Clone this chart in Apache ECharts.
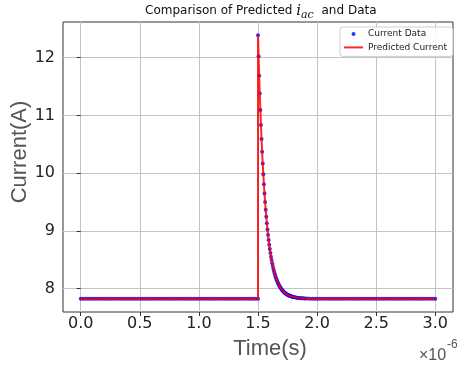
<!DOCTYPE html>
<html>
<head>
<meta charset="utf-8">
<script src="https://cdn.jsdelivr.net/npm/echarts@6/dist/echarts.min.js"></script>
<style>
  html, body { margin: 0; padding: 0; background: #fff; }
  #chart { width: 469px; height: 368px; }
</style>
</head>
<body>
<div id="chart"></div>
<script>
// Measured current (A) against time (microseconds), in three stretches:
// steady state before the step, the fast decay after it, and steady state again.
const preTime = [
  0, 0.02, 0.04, 0.06, 0.08, 0.1, 0.12, 0.14, 0.16, 0.18,
  0.2, 0.22, 0.24, 0.26, 0.28, 0.3, 0.32, 0.34, 0.36, 0.38,
  0.4, 0.42, 0.44, 0.46, 0.48, 0.5, 0.52, 0.54, 0.56, 0.58,
  0.6, 0.62, 0.64, 0.66, 0.68, 0.7, 0.72, 0.74, 0.76, 0.78,
  0.8, 0.82, 0.84, 0.86, 0.88, 0.9, 0.92, 0.94, 0.96, 0.98,
  1.0, 1.02, 1.04, 1.06, 1.08, 1.1, 1.12, 1.14, 1.16, 1.18,
  1.2, 1.22, 1.24, 1.26, 1.28, 1.3, 1.32, 1.34, 1.36, 1.38,
  1.4, 1.42, 1.44, 1.46, 1.48, 1.5
];
const preCurrent = [
  7.825, 7.825, 7.825, 7.825, 7.825, 7.825, 7.825, 7.825, 7.825, 7.825,
  7.825, 7.825, 7.825, 7.825, 7.825, 7.825, 7.825, 7.825, 7.825, 7.825,
  7.825, 7.825, 7.825, 7.825, 7.825, 7.825, 7.825, 7.825, 7.825, 7.825,
  7.825, 7.825, 7.825, 7.825, 7.825, 7.825, 7.825, 7.825, 7.825, 7.825,
  7.825, 7.825, 7.825, 7.825, 7.825, 7.825, 7.825, 7.825, 7.825, 7.825,
  7.825, 7.825, 7.825, 7.825, 7.825, 7.825, 7.825, 7.825, 7.825, 7.825,
  7.825, 7.825, 7.825, 7.825, 7.825, 7.825, 7.825, 7.825, 7.825, 7.825,
  7.825, 7.825, 7.825, 7.825, 7.825, 7.825
];

// Decay after the step, sampled every 5 ns.
const decayTime = [
  1.5, 1.505, 1.51, 1.515, 1.52, 1.525, 1.53, 1.535, 1.54, 1.545,
  1.55, 1.555, 1.56, 1.565, 1.57, 1.575, 1.58, 1.585, 1.59, 1.595,
  1.6, 1.605, 1.61, 1.615, 1.62, 1.625, 1.63, 1.635, 1.64, 1.645,
  1.65, 1.655, 1.66, 1.665, 1.67, 1.675, 1.68, 1.685, 1.69, 1.695,
  1.7, 1.705, 1.71, 1.715, 1.72, 1.725, 1.73, 1.735, 1.74, 1.745,
  1.75, 1.755, 1.76, 1.765, 1.77, 1.775, 1.78, 1.785, 1.79, 1.795,
  1.8
];
const decayCurrent = [
  12.39, 12.025, 11.689, 11.380, 11.095, 10.834, 10.593, 10.372, 10.168, 9.980,
  9.808, 9.649, 9.503, 9.369, 9.246, 9.132, 9.027, 8.931, 8.843, 8.761,
  8.686, 8.617, 8.554, 8.496, 8.442, 8.393, 8.347, 8.306, 8.267, 8.232,
  8.199, 8.169, 8.142, 8.116, 8.093, 8.072, 8.052, 8.034, 8.017, 8.002,
  7.988, 7.975, 7.963, 7.952, 7.941, 7.932, 7.924, 7.916, 7.908, 7.902,
  7.896, 7.890, 7.885, 7.880, 7.876, 7.872, 7.868, 7.864, 7.861, 7.858,
  7.856
];

const postTime = [
  1.81, 1.82, 1.83, 1.84, 1.85, 1.86, 1.87, 1.88, 1.89, 1.9,
  1.92, 1.94, 1.96, 1.98, 2.0,
  2.02, 2.04, 2.06, 2.08, 2.1, 2.12, 2.14, 2.16, 2.18, 2.2,
  2.22, 2.24, 2.26, 2.28, 2.3, 2.32, 2.34, 2.36, 2.38, 2.4,
  2.42, 2.44, 2.46, 2.48, 2.5, 2.52, 2.54, 2.56, 2.58, 2.6,
  2.62, 2.64, 2.66, 2.68, 2.7, 2.72, 2.74, 2.76, 2.78, 2.8,
  2.82, 2.84, 2.86, 2.88, 2.9, 2.92, 2.94, 2.96, 2.98, 3.0
];
const postCurrent = [
  7.851, 7.847, 7.843, 7.840, 7.838, 7.836, 7.834, 7.833, 7.832, 7.831,
  7.829, 7.828, 7.827, 7.826, 7.826,
  7.825, 7.825, 7.825, 7.825, 7.825, 7.825, 7.825, 7.825, 7.825, 7.825,
  7.825, 7.825, 7.825, 7.825, 7.825, 7.825, 7.825, 7.825, 7.825, 7.825,
  7.825, 7.825, 7.825, 7.825, 7.825, 7.825, 7.825, 7.825, 7.825, 7.825,
  7.825, 7.825, 7.825, 7.825, 7.825, 7.825, 7.825, 7.825, 7.825, 7.825,
  7.825, 7.825, 7.825, 7.825, 7.825, 7.825, 7.825, 7.825, 7.825, 7.825
];

// Model prediction: flat, a step at 1.5 us, then the same decay back to steady state.
const predictedTime = [0, 1.5].concat(decayTime, [1.85, 1.9, 2.0, 3.0]);
const predictedCurrent = [7.825, 7.825].concat(decayCurrent, [7.838, 7.831, 7.826, 7.825]);

// Tick positions and axis limits (microseconds / amperes).
const xTicks = [0, 0.5, 1.0, 1.5, 2.0, 2.5, 3.0];
const yTicks = [8, 9, 10, 11, 12];
const xLimits = [-0.15, 3.15];
const yLimits = [7.597, 12.618];

const zip = (xs, ys) => xs.map((x, i) => [x, ys[i]]);
const measured = zip(preTime.concat(decayTime, postTime),
                     preCurrent.concat(decayCurrent, postCurrent));
const predicted = zip(predictedTime, predictedCurrent);

const chart = echarts.init(document.getElementById('chart'), null, { renderer: 'canvas' });

const gridLine = { show: true, lineStyle: { color: '#c4c4c4', width: 1 } };
const tickStyle = { show: true, inside: false, length: 4, lineStyle: { color: '#333', width: 1 } };
const labelFont = { fontFamily: 'DejaVu Sans', fontSize: 16, color: '#222' };
const titleBase = { fontWeight: 'normal', color: '#111', lineHeight: 20, verticalAlign: 'middle' };

chart.setOption({
  animation: false,
  backgroundColor: '#fff',
  title: {
    left: 145,
    top: 1,
    padding: 0,
    text: '{a|Comparison of Predicted }{m|i}{s|ac}{a| and Data}',
    textStyle: {
      fontWeight: 'normal',
      rich: {
        a: Object.assign({ fontFamily: 'DejaVu Sans', fontSize: 12 }, titleBase),
        m: Object.assign({ fontFamily: 'DejaVu Serif', fontStyle: 'italic', fontSize: 15 }, titleBase),
        s: Object.assign({ fontFamily: 'DejaVu Serif', fontStyle: 'italic', fontSize: 11, padding: [8, 4, 0, 0] }, titleBase)
      }
    }
  },
  legend: {
    left: 340,
    top: 27,
    orient: 'vertical',
    itemWidth: 19,
    itemHeight: 4,
    itemGap: 3.4,
    padding: [2, 6, 4, 3],
    backgroundColor: 'rgba(255,255,255,0.85)',
    borderColor: '#d0d0d0',
    borderWidth: 1,
    borderRadius: 3,
    textStyle: { fontFamily: 'DejaVu Sans', fontSize: 9, color: '#222', lineHeight: 10 },
    data: [
      { name: 'Current Data', icon: 'circle' },
      { name: 'Predicted Current', itemStyle: { opacity: 0 } }
    ]
  },
  grid: {
    left: 63, right: 16, top: 22, bottom: 56,
    show: true, borderColor: '#333', borderWidth: 1, backgroundColor: 'transparent'
  },
  xAxis: {
    type: 'value',
    min: xLimits[0], max: xLimits[1],
    axisLine: { show: false },
    axisTick: Object.assign({ customValues: xTicks }, tickStyle),
    axisLabel: Object.assign({ customValues: xTicks, margin: 4, formatter: v => v.toFixed(1) }, labelFont),
    splitLine: gridLine
  },
  yAxis: {
    type: 'value',
    min: yLimits[0], max: yLimits[1],
    axisLine: { show: false },
    axisTick: Object.assign({ customValues: yTicks }, tickStyle),
    axisLabel: Object.assign({ customValues: yTicks, margin: 8, formatter: v => String(v) }, labelFont),
    splitLine: gridLine
  },
  graphic: [
    {
      type: 'text', x: 270, y: 349,
      style: { text: 'Time(s)', fontFamily: 'Liberation Sans', fontSize: 22, fill: '#555', align: 'center', verticalAlign: 'middle' }
    },
    {
      type: 'text', x: 20, y: 152, rotation: Math.PI / 2,
      style: { text: 'Current(A)', fontFamily: 'Liberation Sans', fontSize: 22, fill: '#555', align: 'center', verticalAlign: 'middle' }
    },
    {
      type: 'text', x: 419, y: 356,
      style: { text: '×10', fontFamily: 'Liberation Sans', fontSize: 16, fill: '#555', align: 'left', verticalAlign: 'middle' }
    },
    {
      type: 'text', x: 447, y: 345,
      style: { text: '-6', fontFamily: 'Liberation Sans', fontSize: 12, fill: '#555', align: 'left', verticalAlign: 'middle' }
    }
  ],
  series: [
    {
      name: 'Current Data',
      type: 'scatter',
      data: measured,
      symbol: 'circle',
      symbolSize: 4,
      itemStyle: { color: '#0000ff' },
      z: 2
    },
    {
      name: 'Predicted Current',
      type: 'line',
      data: predicted,
      symbol: 'none',
      lineStyle: { color: 'rgba(255,0,0,0.85)', width: 2 },
      itemStyle: { color: 'rgba(255,0,0,0.85)' },
      z: 3
    }
  ]
});
</script>
</body>
</html>
